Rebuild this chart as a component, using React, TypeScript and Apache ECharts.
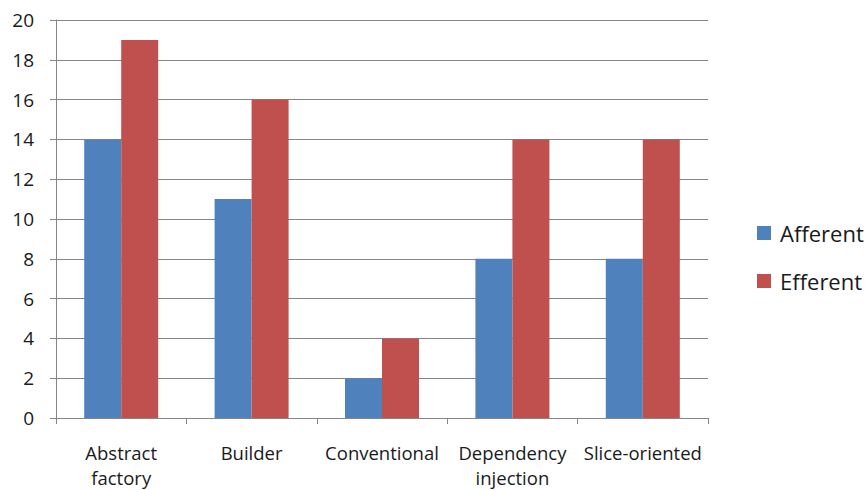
import React, { useEffect, useRef } from "react";
import * as echarts from "echarts";

const categories = ["Abstract\nfactory", "Builder", "Conventional", "Dependency\ninjection", "Slice-oriented"];
const afferent = [14, 11, 2, 8, 8];
const efferent = [19, 16, 4, 14, 14];
const yTicks = { min: 0, max: 20, interval: 2 };

const FONT = "'Open Sans', 'Noto Sans', sans-serif";
const TEXT = "#1a1a1a";
const AXIS = "#868686";

export default function App() {
  const ref = useRef<HTMLDivElement>(null);
  useEffect(() => {
    if (!ref.current) return;
    const chart = echarts.init(ref.current, null, { renderer: "svg" });
    chart.setOption({
      animation: false,
      backgroundColor: "#ffffff",
      grid: { left: 56, top: 20, right: 160, bottom: 72, containLabel: false },
      legend: {
        orient: "vertical",
        left: 752,
        top: 216,
        itemWidth: 14,
        itemHeight: 14,
        itemGap: 24,
        icon: "rect",
        textStyle: {
          fontFamily: FONT,
          fontSize: 22,
          color: TEXT,
          lineHeight: 24,
          padding: [0, 0, 0, 4],
        },
        data: ["Afferent", "Efferent"],
      },
      xAxis: {
        type: "category",
        data: categories,
        axisLine: { lineStyle: { color: AXIS, width: 1 } },
        axisTick: { show: true, length: 6, lineStyle: { color: AXIS } },
        axisLabel: {
          interval: 0,
          margin: 22,
          fontFamily: FONT,
          fontSize: 18.5,
          lineHeight: 25,
          color: TEXT,
        },
      },
      yAxis: {
        type: "value",
        min: yTicks.min,
        max: yTicks.max,
        interval: yTicks.interval,
        axisLine: { show: true, lineStyle: { color: AXIS, width: 1 } },
        axisTick: { show: true, length: 6, lineStyle: { color: AXIS } },
        splitLine: { show: true, lineStyle: { color: AXIS, width: 1 } },
        axisLabel: {
          margin: 22,
          fontFamily: FONT,
          fontSize: 19,
          color: TEXT,
        },
      },
      series: [
        {
          name: "Afferent",
          type: "bar",
          data: afferent,
          barWidth: 37,
          barGap: "0%",
          itemStyle: { color: "#4F81BD" },
        },
        {
          name: "Efferent",
          type: "bar",
          data: efferent,
          barWidth: 37,
          barGap: "0%",
          itemStyle: { color: "#C0504D" },
        },
      ],
    });
    return () => chart.dispose();
  }, []);
  return <div ref={ref} style={{ width: 868, height: 490, position: "absolute", left: 0, top: 0 }} />;
}
